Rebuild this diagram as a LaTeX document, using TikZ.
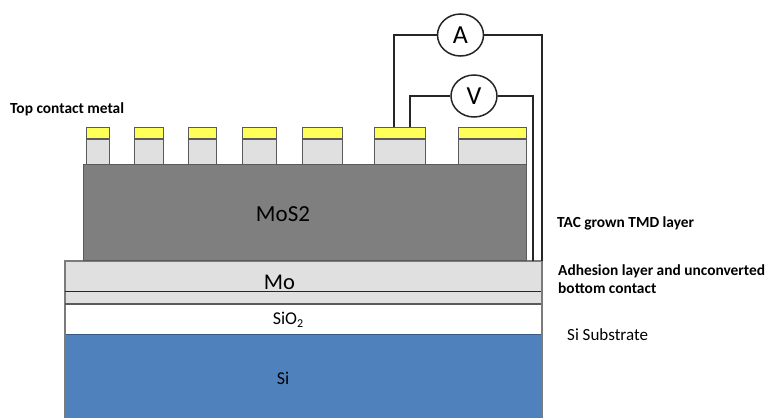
\documentclass[tikz,border=0pt]{standalone}
\usepackage{fontspec}
\setmainfont{Carlito}
\usetikzlibrary{shapes.geometric,calc}
\definecolor{cgray}{HTML}{E0E0E0}
\definecolor{mosgray}{HTML}{7F7F7F}
\definecolor{metal}{HTML}{FFFF5A}
\definecolor{siblue}{HTML}{4F81BD}
\definecolor{edge}{HTML}{5A5A5A}
\tikzset{
  x=1pt,y=-1pt,
  layer/.style={draw=edge,line width=1pt},
  gate/.style={layer,fill=cgray},
  cap metal/.style={layer,fill=metal},
  meter/.style={draw=black!85,line width=1.5pt,fill=white,ellipse,minimum width=46pt,minimum height=42pt,inner sep=0pt,font=\fontsize{26}{26}\selectfont},
  wire/.style={draw=black!85,line width=1.8pt},
  note/.style={anchor=base west,font=\fontsize{15.4}{17}\selectfont\bfseries,inner sep=0pt},
  plain note/.style={anchor=base west,font=\fontsize{17}{19}\selectfont,inner sep=0pt},
  layer text/.style={inner sep=0pt}
}
\begin{document}
\begin{tikzpicture}
\useasboundingbox (0,0) rectangle (766,418);
% layers
\fill[siblue] (65,334) rectangle (542,418);
\draw[draw=siblue!70!black,line width=1pt] (65,334) -- (542,334);
\fill[white] (65,304) rectangle (542,333);
\fill[cgray] (65,261) rectangle (542,303);
\draw[draw=edge!80,line width=1.2pt] (65,418) -- (65,261) -- (542,261);
\draw[draw=black!85,line width=1.8pt] (65,291.5) -- (542,291.5);
\draw[draw=edge,line width=2pt] (65,303.5) -- (542,303.5);
\draw[layer,fill=mosgray] (83,260) rectangle (526,164);
% contacts
\foreach \l/\r in {86/109,134/163,188/216,242/276,302/342,374/425,458/526}{
  \draw[gate] (\l,164) rectangle (\r,139);
  \draw[cap metal] (\l,138) rectangle (\r,127);
}
% named contact points
\coordinate (alead) at (394,127);
\coordinate (vlead) at (410,127);
\coordinate (aend) at (542,261);
\coordinate (vend) at (533,261);
\coordinate (rim) at (542,418);
% meters
\node[meter] (A) at (460.5,35) {A};
\node[meter] (V) at (474,96) {V};
% wires
\draw[wire] (A.west) -- (394,35) -- (alead);
\draw[wire] (A.east) -- (542,35) -- (aend);
\draw[wire] (V.west) -- (410,96) -- (vlead);
\draw[wire] (V.east) -- (533,96) -- (vend);
\draw[draw=edge!80,line width=1.2pt] (aend) -- (rim);
% layer labels
\node[layer text,font=\fontsize{23}{23}\selectfont] (mos) at (283,214) {MoS2};
\node[layer text,font=\fontsize{22.5}{23}\selectfont] (mo) at (279.5,282) {Mo};
\node[layer text,font=\fontsize{18}{18}\selectfont] (sio) at (288,320) {SiO\raisebox{-2.5pt}{\fontsize{12}{12}\selectfont 2}};
\node[layer text,font=\fontsize{18}{18}\selectfont] (si) at (283,378) {Si};
% notes
\node[note] (top) at (10,113) {Top contact metal};
\node[note] (tac) at (557,227) {TAC grown TMD layer};
\node[note] (adh) at (558,275.5) {Adhesion layer and unconverted};
\node[note] (bot) at (558,293) {bottom contact};
\node[plain note] (sub) at (567,340) {Si Substrate};
\end{tikzpicture}
\end{document}
